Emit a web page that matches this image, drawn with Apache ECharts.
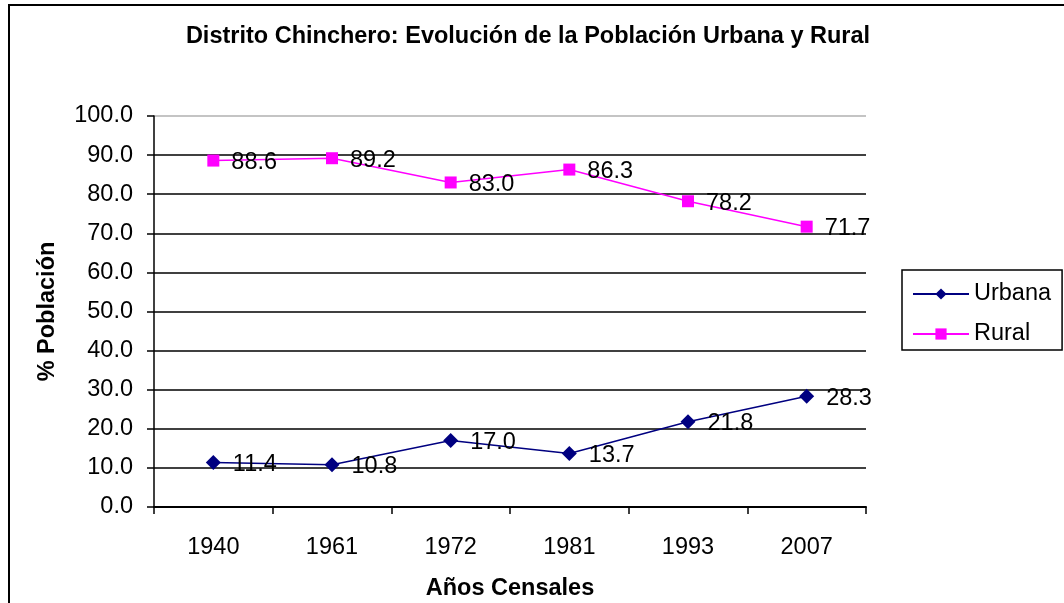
<!DOCTYPE html>
<html>
<head>
<meta charset="utf-8">
<script src="https://cdn.jsdelivr.net/npm/echarts@6/dist/echarts.min.js"></script>
<style>
  html, body { margin: 0; padding: 0; background: #fff; }
  #chart { width: 1064px; height: 603px; }
</style>
</head>
<body>
<div id="chart"></div>
<script>
// años censales
const years = ['1940', '1961', '1972', '1981', '1993', '2007']
// % población urbana y rural
const urbana = [11.4, 10.8, 17.0, 13.7, 21.8, 28.3]
const rural = [88.6, 89.2, 83.0, 86.3, 78.2, 71.7]

const font = 'Liberation Sans, Arial, sans-serif'

// líneas de la grilla: negras, la superior gris (borde del área)
const gridColors = ['#000', '#000', '#000', '#000', '#000', '#000', '#000', '#000', '#000', '#000', '#b0b0b0']

const chart = echarts.init(document.getElementById('chart'))

const labelStyle = {
  show: true,
  position: 'right',
  distance: 12,
  offset: [0, 2],
  color: '#000',
  fontFamily: font,
  fontSize: 23.5,
  formatter: p => p.value.toFixed(1)
}

chart.setOption({
  animation: false,
  backgroundColor: '#fff',
  title: {
    text: 'Distrito Chinchero: Evolución de la Población Urbana y Rural',
    left: 523,
    textAlign: 'center',
    top: 20,
    textStyle: { fontFamily: font, fontSize: 23.5, fontWeight: 'bold', color: '#000' }
  },
  graphic: [{
    type: 'rect',
    shape: { x: 9, y: 5, width: 1200, height: 800 },
    style: { fill: 'none', stroke: '#000', lineWidth: 2 },
    silent: true
  }],
  legend: {
    orient: 'vertical',
    left: 902,
    top: 270,
    itemWidth: 56,
    itemHeight: 14,
    itemGap: 16,
    padding: [12, 11, 4, 10],
    borderColor: '#000',
    borderWidth: 1.5,
    textStyle: { fontFamily: font, fontSize: 23.5, color: '#000' },
    data: ['Urbana', 'Rural']
  },
  grid: { left: 154, right: 198, top: 116, bottom: 96, containLabel: false, outerBoundsMode: 'none' },
  xAxis: {
    type: 'category',
    data: years,
    boundaryGap: true,
    name: 'Años Censales',
    nameLocation: 'middle',
    nameGap: 70,
    nameTextStyle: { fontFamily: font, fontSize: 23.5, fontWeight: 'bold', color: '#000' },
    axisLine: { lineStyle: { color: '#000', width: 2 } },
    axisTick: { show: true, length: 7, lineStyle: { color: '#000', width: 1.5 } },
    axisLabel: { color: '#000', fontFamily: font, fontSize: 23.5, margin: 29 }
  },
  yAxis: {
    type: 'value',
    min: 0,
    max: 100,
    interval: 10,
    name: '% Población',
    nameLocation: 'middle',
    nameGap: 94,
    nameRotate: 90,
    nameTextStyle: { fontFamily: font, fontSize: 23.5, fontWeight: 'bold', color: '#000' },
    axisLine: { show: true, lineStyle: { color: '#000', width: 1.5 } },
    axisTick: { show: true, length: 7, lineStyle: { color: '#000', width: 1.5 } },
    axisLabel: { color: '#000', fontFamily: font, fontSize: 23.5, margin: 21, formatter: v => v.toFixed(1) },
    splitLine: { show: true, lineStyle: { color: gridColors, width: 1.5 } }
  },
  series: [
    {
      name: 'Urbana',
      type: 'line',
      data: urbana,
      symbol: 'diamond',
      symbolSize: 15,
      color: '#000080',
      lineStyle: { color: '#000080', width: 1.5 },
      itemStyle: { color: '#000080' },
      label: labelStyle
    },
    {
      name: 'Rural',
      type: 'line',
      data: rural,
      symbol: 'rect',
      symbolSize: 12,
      color: '#ff00ff',
      lineStyle: { color: '#ff00ff', width: 1.5 },
      itemStyle: { color: '#ff00ff' },
      label: labelStyle
    }
  ]
})
</script>
</body>
</html>
